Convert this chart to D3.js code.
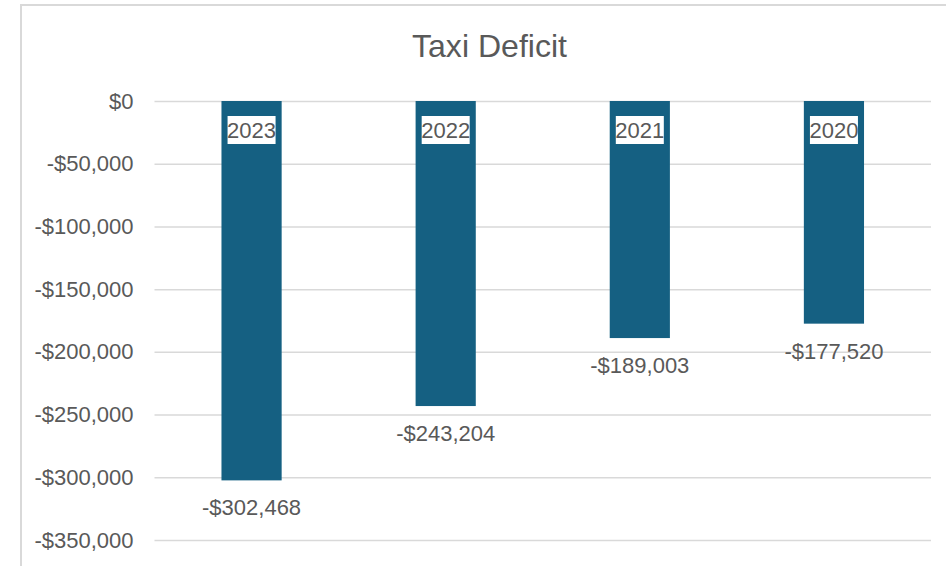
<!DOCTYPE html>
<html>
<head>
<meta charset="utf-8">
<script src="https://cdn.jsdelivr.net/npm/d3@7"></script>
<style>
  html, body { margin: 0; padding: 0; background: #fff; }
  svg { display: block; }
</style>
</head>
<body>
<svg id="chart" width="946" height="566"></svg>
<script>
// Annual taxi deficit, newest year first
const years = ["2023", "2022", "2021", "2020"];
const deficits = [-302468, -243204, -189003, -177520];
const yTicks = [0, -50000, -100000, -150000, -200000, -250000, -300000, -350000];
const chartTitle = "Taxi Deficit";

const W = 946, H = 566;
const margin = { top: 101, right: 15, bottom: 26, left: 154.5 };
const textColor = "#595959";
const gridColor = "#d9d9d9";
const barColor = "#156082";
const labelFont = "'Liberation Sans', Arial, sans-serif";
const labelSize = 22;

const svg = d3.select("#chart");

// Chart frame
svg.append("path")
  .attr("d", `M21,${H} L21,5 L${W},5`)
  .attr("fill", "none")
  .attr("stroke", gridColor)
  .attr("stroke-width", 2);

// Title
svg.append("text")
  .attr("x", 489.5)
  .attr("y", 57)
  .attr("text-anchor", "middle")
  .attr("font-family", "'Liberation Sans Narrow', 'Arial Narrow', 'Liberation Sans', sans-serif")
  .attr("font-size", 32)
  .attr("textLength", 155)
  .attr("lengthAdjust", "spacingAndGlyphs")
  .attr("fill", textColor)
  .text(chartTitle);

const x = d3.scaleBand()
  .domain(years)
  .range([margin.left, 931])
  .paddingInner(0.69)
  .paddingOuter(0.345);

const y = d3.scaleLinear()
  .domain([-350000, 0])
  .range([540, margin.top]);

const fmt = v => (v < 0 ? "-$" : "$") + d3.format(",")(Math.abs(v));

// Value axis with gridlines
const yAxis = svg.append("g")
  .attr("transform", `translate(${margin.left},0)`)
  .call(d3.axisLeft(y)
    .tickValues(yTicks)
    .tickFormat(fmt)
    .tickSize(-(931 - margin.left))
    .tickPadding(21));
yAxis.select(".domain").remove();
yAxis.selectAll(".tick line")
  .attr("stroke", gridColor)
  .attr("stroke-width", 1.5);
yAxis.selectAll(".tick text")
  .attr("fill", textColor)
  .attr("font-family", labelFont)
  .attr("font-size", labelSize);

const data = years.map((yr, i) => ({ year: yr, value: deficits[i] }));

// Bars hanging from zero
svg.append("g").selectAll("rect")
  .data(data)
  .join("rect")
  .attr("x", d => x(d.year))
  .attr("y", y(0))
  .attr("width", x.bandwidth())
  .attr("height", d => y(d.value) - y(0))
  .attr("fill", barColor);

// Category labels on white boxes just under the zero line
const cat = svg.append("g").selectAll("g")
  .data(data)
  .join("g")
  .attr("transform", d => `translate(${x(d.year) + x.bandwidth() / 2},${y(0) + 29})`);
cat.append("rect")
  .attr("x", -24)
  .attr("y", -14)
  .attr("width", 48)
  .attr("height", 28)
  .attr("fill", "#fff");
cat.append("text")
  .attr("text-anchor", "middle")
  .attr("dy", "0.36em")
  .attr("font-family", labelFont)
  .attr("font-size", labelSize)
  .attr("fill", textColor)
  .text(d => d.year);

// Value labels below bar ends
svg.append("g").selectAll("text")
  .data(data)
  .join("text")
  .attr("x", d => x(d.year) + x.bandwidth() / 2)
  .attr("y", d => y(d.value) + 27)
  .attr("dy", "0.36em")
  .attr("text-anchor", "middle")
  .attr("font-family", labelFont)
  .attr("font-size", labelSize)
  .attr("fill", textColor)
  .text(d => fmt(d.value));
</script>
</body>
</html>
